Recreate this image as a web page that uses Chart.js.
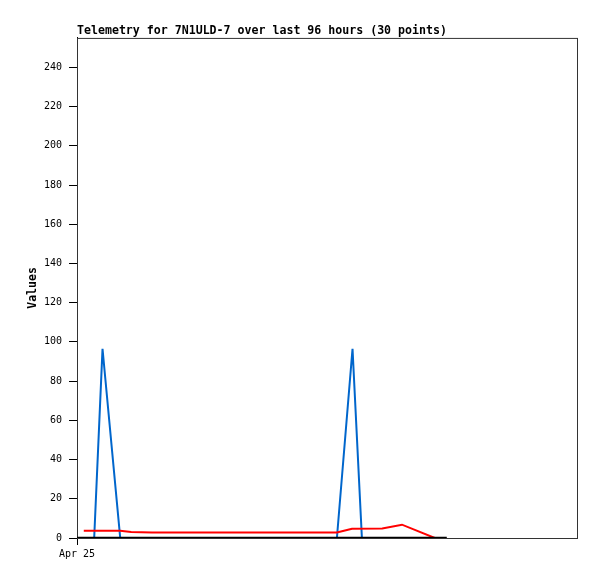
<!DOCTYPE html>
<html>
<head>
<meta charset="utf-8">
<script src="https://cdn.jsdelivr.net/npm/chart.js@4"></script>
<style>
  html, body { margin: 0; padding: 0; background: #fff; }
  #wrap { width: 597px; height: 579px; }
</style>
</head>
<body>
<div id="wrap"><canvas id="telemetry"></canvas></div>
<script>
// hours since the left edge of the axis (axis spans 96 hours)
const blackHours = [0, 10, 20, 30, 40, 50, 60, 71];
const blackValues = [0, 0, 0, 0, 0, 0, 0, 0];

const redHours = [1.3, 8.3, 10.4, 14.4, 49.9, 52.8, 58.6, 62.4, 68.7];
const redValues = [3.7, 3.7, 3.0, 2.8, 2.8, 4.7, 4.8, 6.8, 0];

const blueHours = [3.3, 4.9, 8.3, 49.9, 52.9, 54.7];
const blueValues = [0, 96.5, 0, 0, 96.5, 0];

const xTickHours = [0];
const xTickLabels = ['Apr 25'];

const toPoints = (xs, ys) => xs.map((x, i) => ({ x: x, y: ys[i] }));

const mono = '"DejaVu Sans Mono", "Liberation Mono", monospace';

// box around the plot area (top + right edges)
const frame = {
    id: 'frame',
    beforeDatasetsDraw(chart) {
        const a = chart.chartArea;
        const c = chart.ctx;
        c.save();
        c.strokeStyle = '#333';
        c.lineWidth = 1;
        c.strokeRect(a.left + 0.5, a.top + 0.5, a.right - a.left, a.bottom - a.top);
        c.restore();
    }
};

new Chart(document.getElementById('telemetry'), {
    type: 'line',
    data: {
        datasets: [
            {
                data: toPoints(blackHours, blackValues),
                borderColor: '#000',
                borderWidth: 2.5
            },
            {
                data: toPoints(redHours, redValues),
                borderColor: '#ff0000',
                borderWidth: 2
            },
            {
                data: toPoints(blueHours, blueValues),
                borderColor: '#0066cc',
                borderWidth: 2
            }
        ]
    },
    options: {
        responsive: true,
        maintainAspectRatio: false,
        animation: false,
        elements: {
            point: { radius: 0 },
            line: { tension: 0 }
        },
        layout: {
            padding: { top: 24, right: 20, bottom: 0, left: 0 }
        },
        scales: {
            x: {
                type: 'linear',
                min: 0,
                max: 96,
                afterBuildTicks: axis => {
                    axis.ticks = xTickHours.map(v => ({ value: v }));
                },
                afterFit: axis => { axis.height = 41; },
                ticks: {
                    callback: (v, i) => xTickLabels[i],
                    color: '#000',
                    font: { family: mono, size: 10 },
                    padding: 3,
                    maxRotation: 0
                },
                grid: {
                    drawOnChartArea: false,
                    color: '#000',
                    tickLength: 7
                },
                border: { color: '#000', width: 1 }
            },
            y: {
                min: 0,
                max: 255,
                afterFit: axis => { axis.width = 77; },
                ticks: {
                    stepSize: 20,
                    includeBounds: false,
                    color: '#000',
                    font: { family: mono, size: 10 },
                    padding: 7
                },
                grid: {
                    drawOnChartArea: false,
                    color: '#000',
                    tickLength: 8
                },
                border: { color: '#000', width: 1 },
                title: {
                    display: true,
                    text: 'Values',
                    color: '#000',
                    font: { family: mono, size: 11.5, weight: 'bold' },
                    padding: { top: 26, bottom: 0 }
                }
            }
        },
        plugins: {
            legend: {
                display: false
            },
            tooltip: { enabled: false },
            title: {
                display: true,
                text: 'Telemetry for 7N1ULD-7 over last 96 hours (30 points)',
                align: 'start',
                fullSize: false,
                color: '#000',
                font: { family: mono, size: 11.6, weight: 'bold' },
                padding: { top: 0, bottom: 0 }
            }
        }
    },
    plugins: [frame]
});
</script>
</body>
</html>
